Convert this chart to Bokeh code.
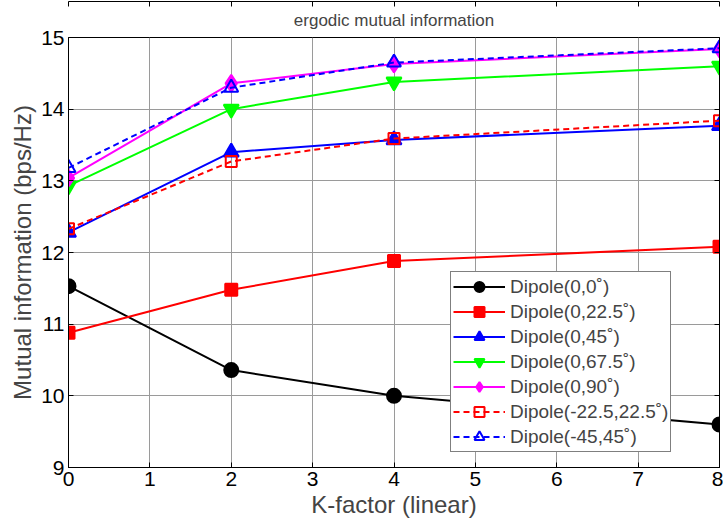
from bokeh.plotting import figure
from bokeh.models import Legend, LegendItem, LinearAxis, FixedTicker, Range1d, Title
from bokeh.embed import file_html
from bokeh.resources import INLINE

# ---- data ----
k_factor = [0, 2, 4, 8]
dipole_0_0 = [11.53, 10.36, 10.0, 9.6]
dipole_0_22_5 = [10.88, 11.48, 11.88, 12.08]
dipole_0_45 = [12.28, 13.40, 13.57, 13.77]
dipole_0_67_5 = [12.93, 14.0, 14.38, 14.60]
dipole_0_90 = [13.04, 14.36, 14.63, 14.84]
dipole_m22_5_22_5 = [12.33, 13.27, 13.59, 13.84]
dipole_m45_45 = [13.18, 14.30, 14.65, 14.85]

x_ticks = [0, 1, 2, 3, 4, 5, 6, 7, 8]
y_ticks = [9, 10, 11, 12, 13, 14, 15]

title_text = "ergodic mutual information"
x_label = "K-factor (linear)"
y_label = "Mutual information (bps/Hz)"

FONT = "Liberation Sans"

p = figure(width=723, height=521, output_backend="svg", toolbar_location=None,
           x_range=Range1d(0, 8), y_range=Range1d(9, 15),
           frame_width=651, frame_height=430,
           min_border_left=68, min_border_right=4, min_border_top=37, min_border_bottom=54)
p.title = None
p.add_layout(Title(text=title_text, align="center", text_font=FONT, text_font_size="17px",
                   text_font_style="normal", standoff=15), "above")

p.xaxis.ticker = FixedTicker(ticks=x_ticks)
p.yaxis.ticker = FixedTicker(ticks=y_ticks)
p.xaxis.axis_label = x_label
p.yaxis.axis_label = y_label
for ax in (p.xaxis[0], p.yaxis[0]):
    ax.axis_label_text_font = FONT
    ax.axis_label_text_font_size = "24px"
    ax.axis_label_text_font_style = "normal"
    ax.major_label_text_font = FONT
    ax.major_label_text_font_size = "21px"
    ax.major_label_text_color = "black"
    ax.major_tick_in = 5
    ax.major_tick_out = 0
    ax.minor_tick_line_color = None
    ax.axis_line_color = "black"
    ax.major_tick_line_color = "black"
    ax.axis_label_standoff = 2
    ax.major_label_standoff = 4

for loc, tk in (("above", x_ticks), ("right", y_ticks)):
    a = LinearAxis(ticker=FixedTicker(ticks=tk), major_label_text_font_size="1px",
                   major_label_text_color=None,
                   major_tick_in=5, major_tick_out=0, minor_tick_line_color=None,
                   major_label_standoff=0, axis_line_color="black")
    p.add_layout(a, loc)

p.grid.grid_line_color = "#9a9a9a"
p.grid.grid_line_width = 1
p.outline_line_color = "black"

items = []

def series(y, color, marker, label, dash="solid", fill=True, size=13):
    r1 = p.line(k_factor, y, line_color=color, line_width=2, line_dash=dash)
    r2 = p.scatter(k_factor, y, marker=marker, size=size, line_color=color, line_width=2,
                   fill_color=color if fill else "white", fill_alpha=1.0 if fill else 0.0)
    items.append(LegendItem(label=label, renderers=[r1, r2]))

series(dipole_0_0, "black", "circle", "Dipole(0,0˚)", size=14)
series(dipole_0_22_5, "red", "square", "Dipole(0,22.5˚)", size=12)
series(dipole_0_45, "blue", "triangle", "Dipole(0,45˚)", size=15)
series(dipole_0_67_5, "#00ff00", "inverted_triangle", "Dipole(0,67.5˚)", size=15)
series(dipole_0_90, "magenta", "diamond", "Dipole(0,90˚)", size=17)
series(dipole_m22_5_22_5, "red", "square", "Dipole(-22.5,22.5˚)", dash="6 4", fill=False, size=11)
series(dipole_m45_45, "blue", "triangle", "Dipole(-45,45˚)", dash="6 4", fill=False, size=14)

legend = Legend(items=items, location=(382, 15), border_line_color="black", border_line_width=1,
                background_fill_color="white", background_fill_alpha=1.0,
                label_text_font=FONT, label_text_font_size="19px",
                glyph_width=52, glyph_height=25, label_height=21, spacing=0,
                padding=2, margin=0, label_standoff=5)
p.add_layout(legend, "center")

open("out.html", "w").write(file_html(p, INLINE))
